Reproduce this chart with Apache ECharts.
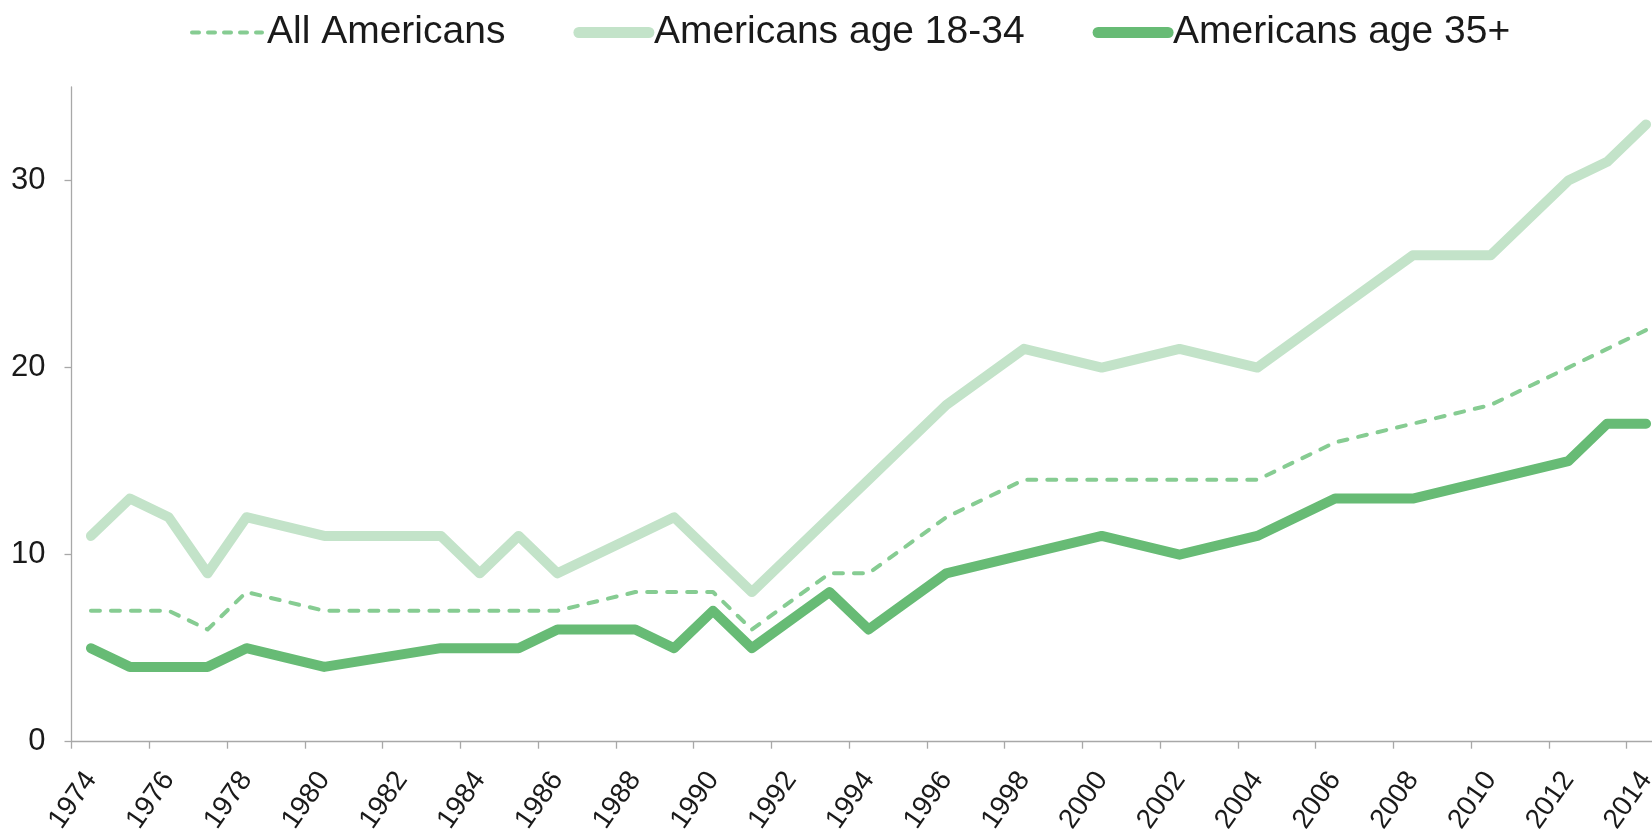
<!DOCTYPE html>
<html><head><meta charset="utf-8">
<script src="https://cdn.jsdelivr.net/npm/echarts@6/dist/echarts.min.js"></script>
<style>html,body{margin:0;padding:0;background:#fff}#c{width:1652px;height:835px}</style>
</head><body><div id="c"></div>
<script>
// Axis categories (tick labels every other year)
const axisYears = ['1974','1975','1976','1977','1978','1979','1980','1981','1982','1983','1984','1985','1986','1987','1988','1989','1990','1991','1992','1993','1994','1995','1996','1997','1998','1999','2000','2001','2002','2003','2004','2005','2006','2007','2008','2009','2010','2011','2012','2013','2014'];
// Survey years with data
const surveyYears = ['1974','1975','1976','1977','1978','1980','1983','1984','1985','1986','1988','1989','1990','1991','1993','1994','1996','1998','2000','2002','2004','2006','2008','2010','2012','2013','2014'];
const allAmericans = [7,7,7,6,8,7,7,7,7,7,8,8,8,6,9,9,12,14,14,14,14,16,17,18,20,21,22];
const age18to34   = [11,13,12,9,12,11,11,9,11,9,11,12,10,8,12,14,18,21,20,21,20,23,26,26,30,31,33];
const age35plus   = [5,4,4,4,5,4,5,5,5,6,6,5,7,5,8,6,9,10,11,10,11,13,13,14,15,17,17];
const yTickValues = [0,10,20,30];
const seriesNames = ['All Americans','Americans age 18-34','Americans age 35+'];

const FONT = '"Liberation Sans", Arial, sans-serif';
const cDash = '#86cc92', cLight = '#c3e3c9', cDark = '#67bb75';
const axisColor = '#a8a8a8';

function pairs(vals){ return surveyYears.map((y,i)=>[y, vals[i]]); }

const chart = echarts.init(document.getElementById('c'), null, {renderer:'canvas'});
chart.setOption({
  animation:false,
  backgroundColor:'#fff',
  legend:{
    top:8, left:185, itemWidth:70, itemHeight:14, itemGap:68,
    textStyle:{fontSize:39, color:'#1a1a1a', fontFamily:FONT},
    data:[
      {name:seriesNames[0], itemStyle:{opacity:0}, lineStyle:{width:4, type:[7,9], color:cDash, cap:'round'}},
      {name:seriesNames[1], itemStyle:{opacity:0}, lineStyle:{width:11, color:cLight, cap:'round'}},
      {name:seriesNames[2], itemStyle:{opacity:0}, lineStyle:{width:11, color:cDark, cap:'round'}}
    ]
  },
  grid:{left:71.5, top:87, width:1594, height:654.7, outerBoundsMode:'none', containLabel:false},
  xAxis:{
    type:'category', data:axisYears, boundaryGap:true,
    axisLine:{lineStyle:{color:axisColor, width:1.3}},
    axisTick:{show:true, interval:1, length:7, lineStyle:{color:axisColor, width:1.3}},
    axisLabel:{interval:1, rotate:55, fontSize:28, color:'#1a1a1a', fontFamily:FONT, margin:33}
  },
  yAxis:{
    type:'value', min:0, max:35, interval:10,
    splitLine:{show:false},
    axisLine:{show:true, lineStyle:{color:axisColor, width:1.3}},
    axisTick:{show:true, length:7, lineStyle:{color:axisColor, width:1.3}, customValues:yTickValues},
    axisLabel:{fontSize:31, color:'#1a1a1a', fontFamily:FONT, margin:26, customValues:yTickValues}
  },
  series:[
    {name:seriesNames[0], type:'line', data:pairs(allAmericans), symbol:'none',
     lineStyle:{width:4, type:[9,11], color:cDash, cap:'round', join:'round'}, itemStyle:{color:cDash}, z:3},
    {name:seriesNames[1], type:'line', data:pairs(age18to34), symbol:'none',
     lineStyle:{width:10, color:cLight, cap:'round', join:'round'}, itemStyle:{color:cLight}, z:2},
    {name:seriesNames[2], type:'line', data:pairs(age35plus), symbol:'none',
     lineStyle:{width:10, color:cDark, cap:'round', join:'round'}, itemStyle:{color:cDark}, z:4}
  ]
});
</script></body></html>
